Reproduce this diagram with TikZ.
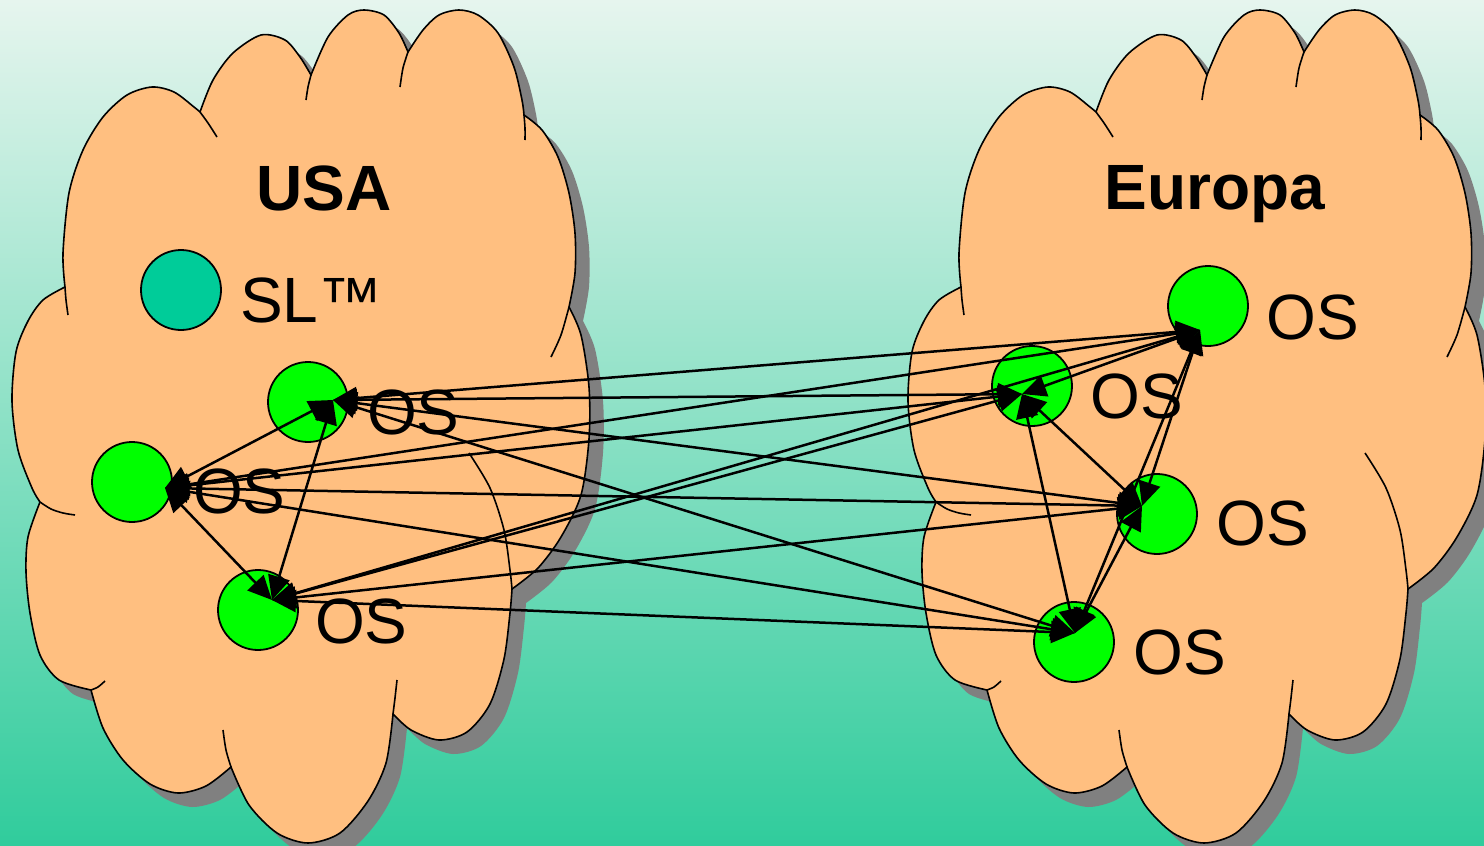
\documentclass[tikz,border=0pt]{standalone}
\usepackage{fontspec}
\setmainfont{Liberation Sans}
\usetikzlibrary{arrows.meta}
\definecolor{bgtop}{RGB}{230,245,238}
\definecolor{bgbot}{RGB}{48,204,156}
\definecolor{cloudfill}{RGB}{255,191,128}
\definecolor{shadowgray}{RGB}{128,128,128}
\definecolor{osgreen}{RGB}{0,255,0}
\definecolor{slteal}{RGB}{0,204,153}
\tikzset{
  cloudpath/.style={insert path={
    plot[smooth] coordinates {(65,287) (63,253) (69,193) (83,150) (103,117) (127,95) (152,87) (174,92) (194,107) (200,112)}
    -- plot[smooth] coordinates {(200,112) (213,80) (233,53) (261,35) (285,40) (300,57) (311,75)}
    -- plot[smooth] coordinates {(311,75) (328,37) (348,15) (364,10) (384,15) (399,33) (408,52)}
    -- plot[smooth] coordinates {(408,52) (423,30) (439,15) (459,10) (478,15) (498,33) (514,67) (522,100) (524,115)}
    -- plot[smooth] coordinates {(524,115) (542,130) (558,157) (569,193) (575,233) (575,273) (569,307)}
    -- plot[smooth] coordinates {(569,307) (581,335) (589,387) (589,439) (581,495) (561,537) (538,568) (512,589)}
    -- plot[smooth] coordinates {(512,589) (510,613) (504,659) (490,704) (467,732) (439,740) (411,730) (393,714)}
    -- plot[smooth] coordinates {(393,714) (386,763) (368,801) (340,833) (308,843) (277,833) (249,805) (231,767)}
    -- plot[smooth] coordinates {(231,767) (206,786) (178,793) (150,784) (123,760) (103,728) (91,690)}
    -- plot[smooth] coordinates {(91,690) (59,680) (40,655) (30,613) (26,572) (28,537) (40,502)}
    -- plot[smooth] coordinates {(40,502) (32,488) (18,450) (12,401) (16,352) (28,321) (43,300) (65,287)}
    -- cycle}},
  cloudline/.style={draw=black, line width=1.6pt, line join=round},
  cloud/.pic={
    \fill[shadowgray, shift={(14,14)}, cloudpath];
    \path[fill=cloudfill, cloudline, cloudpath];
    \draw[cloudline] plot[smooth] coordinates {(200,112) (208,123) (217,137)};
    \draw[cloudline] plot[smooth] coordinates {(311,75) (308,87) (306,100)};
    \draw[cloudline] plot[smooth] coordinates {(408,52) (403,68) (400,87)};
    \draw[cloudline] plot[smooth] coordinates {(524,115) (525,128) (525,140)};
    \draw[cloudline] plot[smooth] coordinates {(569,307) (561,335) (551,357)};
    \draw[cloudline] plot[smooth] coordinates {(469,453) (490,488) (504,530) (510,570) (512,589)};
    \draw[cloudline] plot[smooth] coordinates {(397,680) (395,698) (393,714)};
    \draw[cloudline] plot[smooth] coordinates {(231,767) (226,750) (223,730)};
    \draw[cloudline] plot[smooth] coordinates {(91,690) (98,687) (105,681)};
    \draw[cloudline] plot[smooth] coordinates {(40,502) (51,509) (63,513) (75,515)};
    \draw[cloudline] plot[smooth] coordinates {(65,287) (66,300) (68,315)};
  }
}
\begin{document}
\begin{tikzpicture}[x=1pt,y=-1pt,
  osnode/.style={circle, draw=black, line width=1.8pt, fill=osgreen, minimum size=80pt, inner sep=0pt},
  slnode/.style={circle, draw=black, line width=1.8pt, fill=slteal, minimum size=80pt, inner sep=0pt},
  lbl/.style={font=\fontsize{64}{64}\selectfont, anchor=base west, inner sep=0pt},
  title/.style={font=\fontsize{64}{64}\selectfont\bfseries, anchor=base, inner sep=0pt},
  link/.style={line width=2.5pt, {Triangle[length=24pt,width=22pt]}-{Triangle[length=24pt,width=22pt]}}
]
\useasboundingbox (0,0) rectangle (1484,846);
\clip (0,0) rectangle (1484,846);
\shade[top color=bgtop, bottom color=bgbot] (0,0) rectangle (1484,846);

\pic at (0,0) {cloud};
\pic at (896,0) {cloud};

\node[title] (usa) at (324,210) {USA};
\node[title] (europa) at (1215,209) {Europa};

\node[slnode] (sl) at (181,290) {};
\node[lbl] (sllbl) at (240,322) {SL™};

\node[osnode] (A) at (308,402) {};
\node[osnode] (B) at (132,482) {};
\node[osnode] (C) at (258,610) {};
\node[osnode] (E1) at (1208,306) {};
\node[osnode] (E2) at (1032,386) {};
\node[osnode] (E3) at (1157,514) {};
\node[osnode] (E4) at (1074,642) {};

\node[lbl] (Alb) at (367,434) {OS};
\node[lbl] (Blb) at (193,513) {OS};
\node[lbl] (Clb) at (315,643) {OS};
\node[lbl] (E1lb) at (1266,339) {OS};
\node[lbl] (E2lb) at (1090,418) {OS};
\node[lbl] (E3lb) at (1216,545) {OS};
\node[lbl] (E4lb) at (1133,674) {OS};

\coordinate (Ah) at (333,400);
\coordinate (Bh) at (165,488);
\coordinate (Ch) at (272,600);
\coordinate (E1h) at (1200,330);
\coordinate (E2h) at (1022,394);
\coordinate (E3h) at (1142,506);
\coordinate (E4h) at (1075,633);

\draw[link] (Ah) -- (Bh);
\draw[link] (Ah) -- (Ch);
\draw[link] (Bh) -- (Ch);
\foreach \u in {Ah,Bh,Ch}{
  \foreach \e in {E1h,E2h,E3h,E4h}{
    \draw[link] (\u) -- (\e);
  }
}
\draw[link] (E1h) -- (E2h);
\draw[link] (E1h) -- (E3h);
\draw[link] (E1h) -- (E4h);
\draw[link] (E2h) -- (E3h);
\draw[link] (E2h) -- (E4h);
\draw[link] (E3h) -- (E4h);
\end{tikzpicture}
\end{document}
